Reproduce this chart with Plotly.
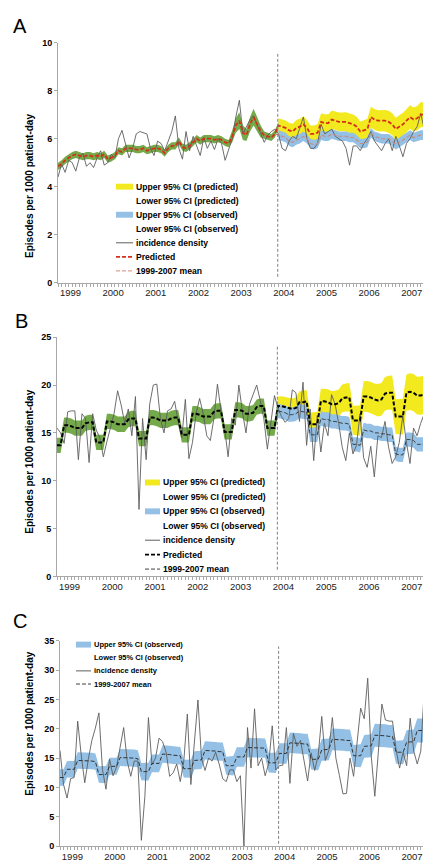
import plotly.graph_objects as go

W, H = 431, 862
FONT = "Liberation Sans, Arial, Helvetica, sans-serif"

# ---------------- data ----------------
months = list(range(107))          # monthly index, first month = 0
POST = 62                          # first month after the intervention
year_labels = ["1999", "2000", "2001", "2002", "2003", "2004", "2005", "2006", "2007"]
year_ticks = [3.5, 15.5, 27.5, 39.5, 51.5, 63.5, 75.5, 87.5, 99.5]
intervention_line = 61.8

# Panel A
inc_A = [4.40, 4.95, 4.60, 5.10, 5.00, 4.65, 5.20, 5.40, 4.85, 5.00,
         4.80, 5.20, 5.50, 4.90, 5.00, 5.35, 5.20, 6.00, 6.35, 5.75,
         5.20, 5.60, 6.20, 6.30, 6.25, 6.20, 5.60, 5.30, 5.90, 5.80,
         5.50, 5.90, 6.30, 6.95, 5.60, 5.15, 6.30, 5.50, 6.10, 5.70,
         5.30, 6.05, 5.60, 5.90, 5.55, 6.00, 5.80, 5.10, 5.60, 6.00,
         6.90, 7.60, 6.20, 6.50, 6.80, 6.95, 6.60, 6.20, 5.85, 6.15,
         6.30, 6.40, 6.20, 5.60, 5.50, 5.90, 6.10, 6.00, 6.50, 6.90,
         6.00, 5.60, 5.60, 5.80, 6.60, 6.20, 6.30, 6.40, 6.10, 6.00,
         5.90, 5.60, 4.90, 5.70, 5.70, 5.50, 5.80, 6.00, 6.30, 5.90,
         5.70, 5.50, 5.80, 6.00, 5.50, 6.10, 5.70, 5.25, 5.80, 6.00,
         6.30, 6.50, 7.05, 6.40, 6.00, 6.50, 5.30]
pred_A = [4.85, 4.95, 5.10, 5.20, 5.30, 5.35, 5.30, 5.25, 5.30, 5.30,
          5.25, 5.30, 5.25, 5.35, 5.15, 5.20, 5.30, 5.50, 5.45, 5.60,
          5.60, 5.60, 5.55, 5.55, 5.60, 5.50, 5.55, 5.60, 5.60, 5.55,
          5.40, 5.60, 5.70, 5.70, 5.90, 5.65, 5.60, 5.70, 5.85, 6.00,
          5.90, 6.00, 6.00, 6.00, 5.95, 6.00, 5.95, 5.85, 5.80, 6.10,
          6.55, 6.75, 6.25, 6.15, 6.60, 6.90, 6.60, 6.30, 6.15, 6.10,
          6.05, 6.20,
          6.55, 6.50, 6.45, 6.35, 6.30, 6.45, 6.50, 6.60, 6.45, 6.20,
          6.20, 6.25, 6.70, 6.65, 6.65, 6.80, 6.75, 6.70, 6.70, 6.70,
          6.65, 6.60, 6.50, 6.30, 6.35, 6.40, 6.90, 6.80, 6.75, 6.75,
          6.75, 6.70, 6.60, 6.40, 6.50, 6.60, 6.75, 6.90, 6.80, 6.85,
          7.00, 7.00, 7.10, 7.25, 6.80]
mean_A_post = [6.15, 6.10, 6.05, 5.90, 5.85, 5.95, 6.00, 6.10, 6.00, 5.80,
               5.75, 5.80, 6.15, 6.10, 6.10, 6.20, 6.15, 6.10, 6.10, 6.10,
               6.05, 6.05, 5.95, 5.80, 5.80, 5.85, 6.25, 6.10, 6.05, 6.00,
               6.00, 6.00, 5.90, 5.75, 5.85, 5.95, 6.05, 6.15, 6.05, 6.10,
               6.15, 6.15, 6.20, 6.30, 5.90]
ci_pre_A = [0.15, 0.15, 0.15, 0.15, 0.15, 0.15, 0.15, 0.15, 0.15, 0.15,
            0.15, 0.15, 0.15, 0.15, 0.15, 0.15, 0.15, 0.15, 0.15, 0.15,
            0.15, 0.15, 0.15, 0.15, 0.15, 0.15, 0.15, 0.15, 0.15, 0.15,
            0.15, 0.15, 0.15, 0.15, 0.15, 0.15, 0.15, 0.15, 0.15, 0.15,
            0.15, 0.15, 0.15, 0.15, 0.15, 0.15, 0.15, 0.15, 0.15, 0.25,
            0.30, 0.35, 0.30, 0.25, 0.30, 0.35, 0.30, 0.25, 0.15, 0.15,
            0.15, 0.15, 0.15]
ci_pred_A = [0.30, 0.31, 0.31, 0.32, 0.32, 0.33, 0.33, 0.34, 0.34, 0.35,
             0.35, 0.36, 0.36, 0.37, 0.37, 0.38, 0.38, 0.39, 0.39, 0.40,
             0.40, 0.41, 0.41, 0.42, 0.42, 0.43, 0.43, 0.44, 0.44, 0.45,
             0.45, 0.46, 0.46, 0.47, 0.47, 0.48, 0.48, 0.49, 0.50, 0.51,
             0.52, 0.53, 0.54, 0.55, 0.55]
ci_obs_A = [0.20, 0.20, 0.20, 0.20, 0.20, 0.20, 0.20, 0.20, 0.20, 0.20,
            0.20, 0.20, 0.20, 0.20, 0.20, 0.20, 0.20, 0.20, 0.20, 0.20,
            0.20, 0.20, 0.20, 0.20, 0.20, 0.20, 0.20, 0.20, 0.20, 0.20,
            0.20, 0.20, 0.20, 0.20, 0.20, 0.20, 0.20, 0.20, 0.20, 0.20,
            0.20, 0.20, 0.20, 0.20, 0.20]

# Panel B
inc_B = [15.5, 15.0, 13.9, 17.2, 17.3, 17.3, 12.2, 17.0, 16.5, 11.9,
         17.0, 15.3, 14.5, 12.5, 14.1, 15.5, 17.0, 19.4, 17.9,
         16.0, 17.5, 14.7, 18.8, 7.0, 16.5, 12.2, 18.0, 20.0, 20.1,
         16.5, 15.0, 17.3, 17.5, 18.3, 16.1, 14.5, 18.5, 12.3, 14.0,
         17.0, 18.6, 17.0, 14.7, 14.2, 16.5, 20.1, 17.3, 15.5, 12.5,
         16.5, 15.8, 20.0, 17.2, 15.0, 18.0, 19.0, 20.0, 18.4, 16.5,
         13.3, 16.4, 18.9, 17.5, 16.7, 16.1, 16.5, 19.5, 19.2,
         16.2, 20.3, 13.7, 17.5, 12.1, 16.8, 13.0, 16.0, 14.7, 19.0,
         18.0, 16.0, 13.5, 12.1, 15.0, 12.8, 13.7, 17.0,
         12.4, 11.4, 13.6, 10.4, 14.7, 14.5, 16.2, 13.5, 11.8, 12.5,
         14.0, 16.8, 14.0, 11.8, 15.5, 14.7, 16.0, 17.0, 15.5, 14.5, 14.2]
pred_B = [13.7, 13.7,
          15.8, 15.8, 15.7, 15.5, 15.5, 15.5, 16.0, 16.1, 16.1,
          14.0, 14.0, 14.0, 16.2, 16.2, 16.1, 15.9, 15.9, 15.9,
          16.4, 16.5, 16.5, 14.4, 14.4, 14.4, 16.6, 16.6, 16.5,
          16.3, 16.3, 16.3, 16.5, 16.6, 16.6, 14.8, 14.8, 14.8,
          17.0, 17.0, 16.9, 16.7, 16.7, 16.7, 17.2, 17.3, 17.3,
          15.1, 15.1, 15.1, 17.4, 17.4, 17.3, 17.0, 17.0, 17.1,
          17.7, 17.8, 17.8, 15.5, 15.5, 15.5, 17.8, 17.8, 17.7,
          17.6, 17.5, 17.6, 18.2, 18.2, 18.3, 15.9, 15.9, 15.9,
          18.3, 18.3, 18.2, 18.0, 18.0, 18.1, 18.6, 18.7, 18.7,
          16.3, 16.3, 16.3, 18.8, 18.8, 18.7, 18.5, 18.4, 18.5,
          19.1, 19.2, 19.2, 16.7, 16.7, 16.7, 19.2, 19.3, 19.2,
          18.9, 18.9, 19.0, 19.6, 19.7, 17.3]
mean_B_post = [17.3, 17.2, 17.1, 16.9, 16.9, 17.0, 17.3, 17.2, 17.2,
               14.8, 14.8, 14.8, 16.5, 16.4, 16.4, 16.2, 16.2, 16.1,
               16.0, 16.0, 15.9, 13.8, 13.8, 13.7, 15.3, 15.2, 15.2,
               15.0, 15.0, 14.9, 14.9, 14.8, 14.8, 12.8, 12.7, 12.7,
               14.3, 14.3, 14.2, 13.8, 13.8, 13.8, 14.0, 13.9, 12.0]
ci_pre_B = [0.80, 0.80, 0.80, 0.80, 0.80, 0.80, 0.80, 0.80, 0.80, 0.80,
            0.80, 0.80, 0.80, 0.80, 0.80, 0.80, 0.80, 0.80, 0.80, 0.80,
            0.80, 0.80, 0.80, 0.80, 0.80, 0.80, 0.80, 0.80, 0.80, 0.80,
            0.80, 0.80, 0.80, 0.80, 0.80, 0.80, 0.80, 0.80, 0.80, 0.80,
            0.80, 0.80, 0.80, 0.80, 0.80, 0.80, 0.80, 0.80, 0.80, 0.80,
            0.80, 0.80, 0.80, 0.80, 0.80, 0.80, 0.80, 0.80, 0.80, 0.80,
            0.80, 0.80, 0.80]
ci_pred_B = [1.00, 1.02, 1.05, 1.07, 1.10, 1.12, 1.15, 1.17, 1.20, 1.22,
             1.25, 1.27, 1.30, 1.32, 1.35, 1.37, 1.40, 1.42, 1.45, 1.47,
             1.50, 1.52, 1.55, 1.57, 1.60, 1.62, 1.65, 1.67, 1.70, 1.72,
             1.75, 1.77, 1.80, 1.82, 1.85, 1.87, 1.90, 1.92, 1.95, 1.97,
             2.00, 2.02, 2.05, 2.07, 2.10]
ci_obs_B = [0.75, 0.75, 0.75, 0.75, 0.75, 0.75, 0.75, 0.75, 0.75, 0.75,
            0.75, 0.75, 0.75, 0.75, 0.75, 0.75, 0.75, 0.75, 0.75, 0.75,
            0.75, 0.75, 0.75, 0.75, 0.75, 0.75, 0.75, 0.75, 0.75, 0.75,
            0.75, 0.75, 0.75, 0.75, 0.75, 0.75, 0.75, 0.75, 0.75, 0.75,
            0.75, 0.75, 0.75, 0.75, 0.75]

# Panel C
inc_C = [16.3, 10.5, 8.2, 11.5, 11.7, 21.3, 15.5, 10.8, 14.8, 18.0,
         20.1, 22.7, 13.1, 9.7, 14.8, 12.0, 13.5, 17.0, 20.2, 14.5,
         11.9, 14.5, 14.5, 1.0, 8.5, 21.9, 13.9, 15.0, 18.4, 17.8,
         16.0, 11.9, 12.5, 14.0, 11.0, 14.5, 22.5, 10.5, 18.0, 24.9,
         15.0, 12.9, 15.0, 14.5, 16.0, 14.0, 11.5, 11.0, 13.0, 13.0,
         11.0, 12.0, 0.0, 20.2, 13.3, 23.4, 13.7, 15.0, 12.0, 14.0,
         20.5, 13.0, 13.7, 13.8, 20.2, 10.7, 19.2, 17.0, 18.0, 14.6,
         11.1, 15.9, 12.9, 15.5, 22.1, 14.6, 16.3, 21.9, 15.0, 12.0,
         8.9, 9.0, 15.0, 11.9, 17.6, 23.5, 21.7, 28.6, 15.3, 8.5,
         16.0, 24.2, 21.5, 21.3, 21.3, 16.5, 13.3, 16.0, 13.7, 21.8,
         16.2, 14.0, 16.2, 26.9, 25.0, 22.4, 22.4]
mean_C = [11.7, 11.7,
          13.1, 13.1, 13.1, 14.6, 14.6, 14.6, 14.5, 14.5, 14.4,
          12.2, 12.2, 12.2, 13.6, 13.6, 13.6, 15.1, 15.1, 15.1,
          15.0, 15.0, 14.9, 12.7, 12.7, 12.7, 14.1, 14.1, 14.1,
          15.7, 15.7, 15.6, 15.5, 15.5, 15.4, 13.2, 13.2, 13.2,
          14.6, 14.6, 14.7, 16.3, 16.3, 16.2, 16.2, 16.1, 16.1,
          13.7, 13.7, 13.7, 15.2, 15.2, 15.2, 16.8, 16.8, 16.8,
          16.8, 16.7, 16.7, 14.2, 14.2, 14.2, 15.8, 15.8, 15.8,
          17.6, 17.6, 17.5, 17.5, 17.4, 17.4, 14.8, 14.8, 14.8,
          16.4, 16.4, 16.5, 18.2, 18.2, 18.1, 18.1, 18.0, 18.0,
          15.4, 15.4, 15.4, 17.0, 17.0, 17.1, 18.9, 18.9, 18.8,
          18.8, 18.7, 18.7, 16.0, 16.0, 16.0, 17.7, 17.7, 17.8,
          19.7, 19.7, 19.7, 19.5, 19.5, 16.6]
ci_obs_C = [1.40, 1.40, 1.40, 1.40, 1.40, 1.40, 1.40, 1.40, 1.40, 1.40, 1.40, 1.40,
            1.45, 1.45, 1.45, 1.45, 1.45, 1.45, 1.45, 1.45, 1.45, 1.45, 1.45, 1.45,
            1.50, 1.50, 1.50, 1.50, 1.50, 1.50, 1.50, 1.50, 1.50, 1.50, 1.50, 1.50,
            1.55, 1.55, 1.55, 1.55, 1.55, 1.55, 1.55, 1.55, 1.55, 1.55, 1.55, 1.55,
            1.65, 1.65, 1.65, 1.65, 1.65, 1.65, 1.65, 1.65, 1.65, 1.65, 1.65, 1.65,
            1.75, 1.75, 1.75, 1.75, 1.75, 1.75, 1.75, 1.75, 1.75, 1.75, 1.75, 1.75,
            1.85, 1.85, 1.85, 1.85, 1.85, 1.85, 1.85, 1.85, 1.85, 1.85, 1.85, 1.85,
            1.95, 1.95, 1.95, 1.95, 1.95, 1.95, 1.95, 1.95, 1.95, 1.95, 1.95, 1.95,
            2.05, 2.05, 2.05, 2.05, 2.05, 2.05, 2.05, 2.05, 2.05, 2.05, 2.05]

legend_AB = ["Upper 95% CI (predicted)", "Lower 95% CI (predicted)",
             "Upper 95% CI (observed)", "Lower 95% CI (observed)",
             "incidence density", "Predicted", "1999-2007 mean"]
legend_C = ["Upper 95% CI (observed)", "Lower 95% CI (observed)",
            "incidence density", "1999-2007 mean"]

# ---------------- styles ----------------
YELLOW = "#F2EA1F"
BLUE = "#93C0E4"
GREEN = "#74AA4A"
GREY = "#5E5E5E"
AXIS = "#A8A8A8"

fig = go.Figure()


def band(x, center, hw, color, ax):
    xa, ya = ax
    lo = [c - h for c, h in zip(center, hw)]
    hi = [c + h for c, h in zip(center, hw)]
    fig.add_trace(go.Scatter(x=x, y=lo, mode="lines", line=dict(width=0),
                             showlegend=False, hoverinfo="skip", xaxis=xa, yaxis=ya))
    fig.add_trace(go.Scatter(x=x, y=hi, mode="lines", line=dict(width=0),
                             fill="tonexty", fillcolor=color,
                             showlegend=False, hoverinfo="skip", xaxis=xa, yaxis=ya))


def line(x, y, color, width, dash, ax):
    xa, ya = ax
    fig.add_trace(go.Scatter(x=x, y=y, mode="lines",
                             line=dict(color=color, width=width, dash=dash),
                             showlegend=False, xaxis=xa, yaxis=ya))


pre_x = months[:POST + 1]
post_x = months[POST:]

# Panel A
axA = ("x", "y")
band(post_x, pred_A[POST:], ci_pred_A, YELLOW, axA)
band(post_x, mean_A_post, ci_obs_A, BLUE, axA)
band(pre_x, pred_A[:POST + 1], ci_pre_A, GREEN, axA)
line(months, inc_A, GREY, 0.9, "solid", axA)
line(months[POST - 1:], [pred_A[POST - 1]] + mean_A_post, "#C98A7E", 1.1, "4px,2px", axA)
line(months, pred_A, "#D6301C", 1.8, "4px,2px", axA)

# Panel B
axB = ("x2", "y2")
band(post_x, pred_B[POST:], ci_pred_B, YELLOW, axB)
band(post_x, mean_B_post, ci_obs_B, BLUE, axB)
band(pre_x, pred_B[:POST + 1], ci_pre_B, GREEN, axB)
line(months, inc_B, GREY, 0.9, "solid", axB)
line(months[POST - 1:], [pred_B[POST - 1]] + mean_B_post, "#404040", 1.0, "4px,2px", axB)
line(months, pred_B, "#000000", 2.0, "4px,2px", axB)

# Panel C
axC = ("x3", "y3")
band(months, mean_C, ci_obs_C, BLUE, axC)
line(months, inc_C, GREY, 0.9, "solid", axC)
line(months, mean_C, "#333333", 1.0, "4px,2px", axC)


# ---------------- layout ----------------
def px_x(v):
    return v / W


def px_y(v):
    return 1 - v / H


def xaxis_cfg(left):
    return dict(domain=[px_x(left), px_x(428)], range=[0, 106.3],
                tickmode="array", tickvals=year_ticks, ticktext=year_labels,
                ticks="", showline=True, linecolor=AXIS, linewidth=1,
                showgrid=False, zeroline=False,
                tickfont=dict(family=FONT, size=9.5, color="#1a1a1a"),
                ticklabelstandoff=1,
                minor=dict(ticks="outside", ticklen=3, tickcolor=AXIS,
                           tickmode="linear", tick0=0, dtick=1, showgrid=False))


def yaxis_cfg(top, bottom, rng, dt, anchor):
    return dict(domain=[px_y(bottom), px_y(top)], range=rng, dtick=dt, tick0=0,
                ticks="outside", ticklen=3, tickcolor=AXIS, showline=True,
                linecolor=AXIS, linewidth=1, showgrid=False, zeroline=False,
                anchor=anchor,
                tickfont=dict(family=FONT, size=9, color="#000", weight="bold"))


layout = dict(
    width=W, height=H, margin=dict(l=0, r=0, t=0, b=0),
    paper_bgcolor="white", plot_bgcolor="white", showlegend=False,
    xaxis=dict(xaxis_cfg(50), anchor="y"),
    yaxis=yaxis_cfg(30, 273, [0, 10], 2, "x"),
    xaxis2=dict(xaxis_cfg(49), anchor="y2"),
    yaxis2=yaxis_cfg(328, 570, [0, 25], 5, "x2"),
    xaxis3=dict(xaxis_cfg(52), anchor="y3"),
    yaxis3=yaxis_cfg(635, 843, [0, 35], 5, "x3"),
)
fig.update_layout(**layout)

annotations = []
shapes = []

# panel letters
for letter, lx, ly in [("A", 3, 13), ("B", 5, 312), ("C", 3, 615)]:
    annotations.append(dict(text=letter, x=px_x(lx), y=px_y(ly), xref="paper", yref="paper",
                            xanchor="left", yanchor="middle", showarrow=False,
                            font=dict(family=FONT, size=20, color="#000")))

# y-axis titles
for cy in [175, 454, 719]:
    annotations.append(dict(text="Episodes per 1000 patient-day", x=px_x(22), y=px_y(cy),
                            xref="paper", yref="paper", textangle=-90,
                            xanchor="center", yanchor="middle", showarrow=False,
                            font=dict(family=FONT, size=10, color="#000", weight="bold")))

# intervention lines
for xr, yr, top, bot in [("x", "y", 9.6, 0.25), ("x2", "y2", 24.0, 0.7), ("x3", "y3", 34.0, 0.4)]:
    shapes.append(dict(type="line", xref=xr, yref=yr, x0=intervention_line, x1=intervention_line,
                       y0=bot, y1=top, line=dict(color="#808080", width=1, dash="3px,2px")))


# legends
def legend_block(labels, swatches, sx0, sx1, tx, y0, dy, fsize):
    for k, (lab, sw) in enumerate(zip(labels, swatches)):
        yy = y0 + k * dy
        annotations.append(dict(text=lab, x=px_x(tx), y=px_y(yy), xref="paper", yref="paper",
                                xanchor="left", yanchor="middle", showarrow=False,
                                font=dict(family=FONT, size=fsize, color="#000", weight="bold")))
        if sw is None:
            continue
        kind, color, width, dash = sw
        if kind == "rect":
            shapes.append(dict(type="rect", xref="paper", yref="paper",
                               x0=px_x(sx0), x1=px_x(sx1), y0=px_y(yy + 3), y1=px_y(yy - 3),
                               fillcolor=color, line=dict(width=0)))
        else:
            shapes.append(dict(type="line", xref="paper", yref="paper",
                               x0=px_x(sx0), x1=px_x(sx1), y0=px_y(yy), y1=px_y(yy),
                               line=dict(color=color, width=width, dash=dash)))


sw_A = [("rect", YELLOW, 0, None), None, ("rect", BLUE, 0, None), None,
        ("line", GREY, 1, "solid"), ("line", "#D6301C", 1.8, "4px,2px"),
        ("line", "#E0A090", 1.1, "4px,2px")]
sw_B = [("rect", YELLOW, 0, None), None, ("rect", BLUE, 0, None), None,
        ("line", GREY, 1, "solid"), ("line", "#000000", 1.8, "4px,2px"),
        ("line", "#404040", 1.0, "4px,2px")]
sw_C = [("rect", BLUE, 0, None), None, ("line", GREY, 1, "solid"),
        ("line", "#404040", 1.0, "4px,2px")]

legend_block(legend_AB, sw_A, 108, 125, 126, 175.7, 14.2, 8.6)
legend_block(legend_AB, sw_B, 137, 152, 153, 475, 14.6, 8.6)
legend_block(legend_C, sw_C, 68, 83, 84, 639, 13.3, 7.5)

fig.update_layout(annotations=annotations, shapes=shapes)
fig.write_html("out.html")
